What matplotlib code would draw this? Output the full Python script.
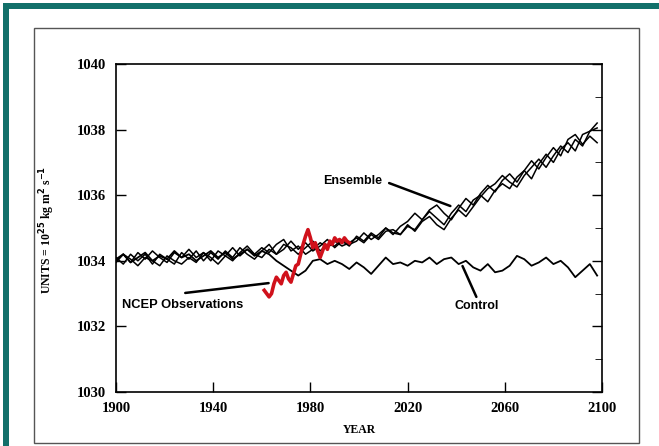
import numpy as np
import matplotlib
matplotlib.use("Agg")
from matplotlib import pyplot as plt
from matplotlib.patches import Rectangle

# ---- data ----
years = np.arange(1900, 2099, 3)

ens_a = [1034.0, 1034.2, 1033.95, 1034.25, 1034.05, 1034.3, 1034.1, 1033.95, 1034.25, 1034.1,
         1034.35, 1034.1, 1034.25, 1034.0, 1034.3, 1034.15, 1034.4, 1034.15, 1034.35, 1034.2,
         1034.4, 1034.25, 1034.5, 1034.65, 1034.3, 1034.45, 1034.2, 1034.35, 1034.55, 1034.4,
         1034.6, 1034.45, 1034.55, 1034.7, 1034.55, 1034.8, 1034.65, 1034.9, 1034.95, 1034.8,
         1035.05, 1034.95, 1035.25, 1035.5, 1035.3, 1035.1, 1035.45, 1035.7, 1035.5, 1035.85,
         1036.0, 1035.8, 1036.15, 1036.35, 1036.2, 1036.55, 1036.75, 1036.5, 1036.95, 1037.25,
         1037.0, 1037.4, 1037.6, 1037.35, 1037.85, 1037.95, 1038.2]
ens_b = [1034.1, 1033.9, 1034.2, 1034.0, 1034.2, 1033.9, 1034.2, 1034.05, 1033.9, 1034.25,
         1034.05, 1034.3, 1034.0, 1034.25, 1034.05, 1034.3, 1034.1, 1034.4, 1034.2, 1034.05,
         1034.3, 1034.5, 1034.2, 1034.35, 1034.6, 1034.35, 1034.55, 1034.3, 1034.45, 1034.65,
         1034.4, 1034.6, 1034.45, 1034.75, 1034.6, 1034.85, 1034.7, 1035.0, 1034.8, 1035.05,
         1035.2, 1035.45, 1035.25, 1035.55, 1035.7, 1035.45, 1035.25, 1035.6, 1035.9, 1035.7,
         1036.05, 1036.3, 1036.1, 1036.45, 1036.65, 1036.4, 1036.75, 1037.05, 1036.8, 1037.15,
         1037.45, 1037.2, 1037.7, 1037.85, 1037.55, 1037.8, 1037.6]
ens_c = [1033.95, 1034.2, 1034.05, 1033.85, 1034.1, 1034.0, 1033.85, 1034.15, 1034.0, 1033.9,
         1034.1, 1033.95, 1034.25, 1034.1, 1033.9, 1034.15, 1034.0, 1034.25, 1034.45, 1034.2,
         1034.1, 1034.35, 1034.2, 1034.5, 1034.4, 1034.2, 1034.4, 1034.6, 1034.3, 1034.5,
         1034.45, 1034.65, 1034.5, 1034.6, 1034.85, 1034.65, 1034.8, 1035.0, 1034.85, 1034.8,
         1035.1, 1034.9, 1035.2, 1035.35, 1035.1, 1034.95, 1035.3, 1035.55, 1035.35, 1035.65,
         1035.95, 1036.2, 1036.35, 1036.6, 1036.4, 1036.25, 1036.6, 1036.85, 1037.1, 1036.85,
         1037.2, 1037.5, 1037.3, 1037.7, 1037.5, 1037.95, 1038.05]
control = [1034.05, 1034.2, 1033.95, 1034.1, 1034.25, 1034.0, 1034.15, 1034.05, 1034.3, 1034.1,
           1034.2, 1034.0, 1034.15, 1034.3, 1034.1, 1034.25, 1034.05, 1034.2, 1034.35, 1034.15,
           1034.3, 1034.2, 1034.0, 1033.85, 1033.7, 1033.55, 1033.7, 1034.0, 1034.05, 1033.9,
           1034.0, 1033.9, 1033.75, 1033.95, 1033.8, 1033.6, 1033.85, 1034.1, 1033.9, 1033.95,
           1033.85, 1034.0, 1033.95, 1034.1, 1033.9, 1034.05, 1034.1, 1033.9, 1034.0, 1033.8,
           1033.7, 1033.9, 1033.65, 1033.7, 1033.85, 1034.15, 1034.05, 1033.85, 1033.95, 1034.1,
           1033.9, 1034.0, 1033.8, 1033.5, 1033.7, 1033.9, 1033.55]

ncep_years = np.arange(1961, 1997)
ncep = [1033.1, 1033.0, 1032.9, 1033.0, 1033.3, 1033.5, 1033.4, 1033.3, 1033.55, 1033.65,
        1033.45, 1033.35, 1033.6, 1033.85, 1033.9, 1034.2, 1034.5, 1034.75, 1034.95, 1034.7,
        1034.4, 1034.55, 1034.3, 1034.1, 1034.3, 1034.5, 1034.35, 1034.6, 1034.5, 1034.7,
        1034.6, 1034.65, 1034.55, 1034.7, 1034.6, 1034.55]

x_ticks = [1900, 1940, 1980, 2020, 2060, 2100]
y_ticks = [1030, 1032, 1034, 1036, 1038, 1040]

serif = "Liberation Serif"
sans = "Liberation Sans"

fig = plt.figure(figsize=(6.59, 4.46), dpi=100)
W, H = 659, 446

# frame: teal bars on top and left, grey-edged white panel
teal = "#12706a"
fig.patches.append(Rectangle((3 / W, 1 - 9 / H), 1, 6 / H, transform=fig.transFigure,
                             facecolor=teal, edgecolor="none", zorder=-2))
fig.patches.append(Rectangle((3 / W, 0), 6 / W, 1 - 3 / H, transform=fig.transFigure,
                             facecolor=teal, edgecolor="none", zorder=-2))
fig.patches.append(Rectangle((34 / W, 3 / H), 605 / W, 415 / H, transform=fig.transFigure,
                             facecolor="white", edgecolor="#555555", linewidth=1.0, zorder=-2))

ax = fig.add_axes([116 / W, 1 - 392 / H, 486 / W, 328 / H])
ax.set_zorder(2)
ax.set_facecolor("none")

for ys in (ens_a, ens_b, ens_c):
    ax.plot(years, ys, color="black", linewidth=1.1)
ax.plot(years, control, color="black", linewidth=1.3)
ax.plot(ncep_years, ncep, color="#d0111b", linewidth=2.6)

ax.set_xlim(1900, 2100)
ax.set_ylim(1030, 1040)
ax.set_xticks(x_ticks)
ax.set_yticks(y_ticks)
ax.set_yticks(np.arange(1031, 1040, 1), minor=True)
ax.tick_params(direction="in", length=7, width=1.0, labelsize=10.5, pad=7)
ax.tick_params(axis="y", which="minor", direction="in", length=5, left=False, right=True)
ax.tick_params(axis="y", right=True)
for lab in ax.get_xticklabels() + ax.get_yticklabels():
    lab.set_fontfamily(serif)
    lab.set_fontweight("bold")
for sp in ax.spines.values():
    sp.set_linewidth(1.2)

ax.set_xlabel("YEAR", fontfamily=serif, fontweight="bold", fontsize=8.5, labelpad=7)
fig.text(47 / W, 1 - 230 / H, r"UNITS = 10$^{\mathbf{25}}$ kg m$^{\mathbf{2}}$ s$^{\mathbf{-1}}$",
         rotation=90, ha="center", va="center", fontfamily=serif, fontweight="bold", fontsize=8.5)

# annotations
ann = dict(arrowprops=dict(arrowstyle="-", color="black", linewidth=1.8, shrinkA=0, shrinkB=0))
ax.annotate("", xy=(2037.6, 1035.67), xytext=(2012.4, 1036.37), **ann)
ax.text(1997.5, 1036.43, "Ensemble", fontfamily=sans, fontweight="bold", fontsize=9,
        ha="center", va="center")
ax.annotate("", xy=(1962.8, 1033.32), xytext=(1928.5, 1033.02), **ann)
ax.text(1927.3, 1032.65, "NCEP Observations", fontfamily=sans, fontweight="bold", fontsize=9.3,
        ha="center", va="center")
ax.annotate("", xy=(2042.6, 1033.84), xytext=(2048.3, 1032.9), **ann)
ax.text(2048.3, 1032.62, "Control", fontfamily=sans, fontweight="bold", fontsize=9,
        ha="center", va="center")

fig.savefig("out.png", dpi=100)
